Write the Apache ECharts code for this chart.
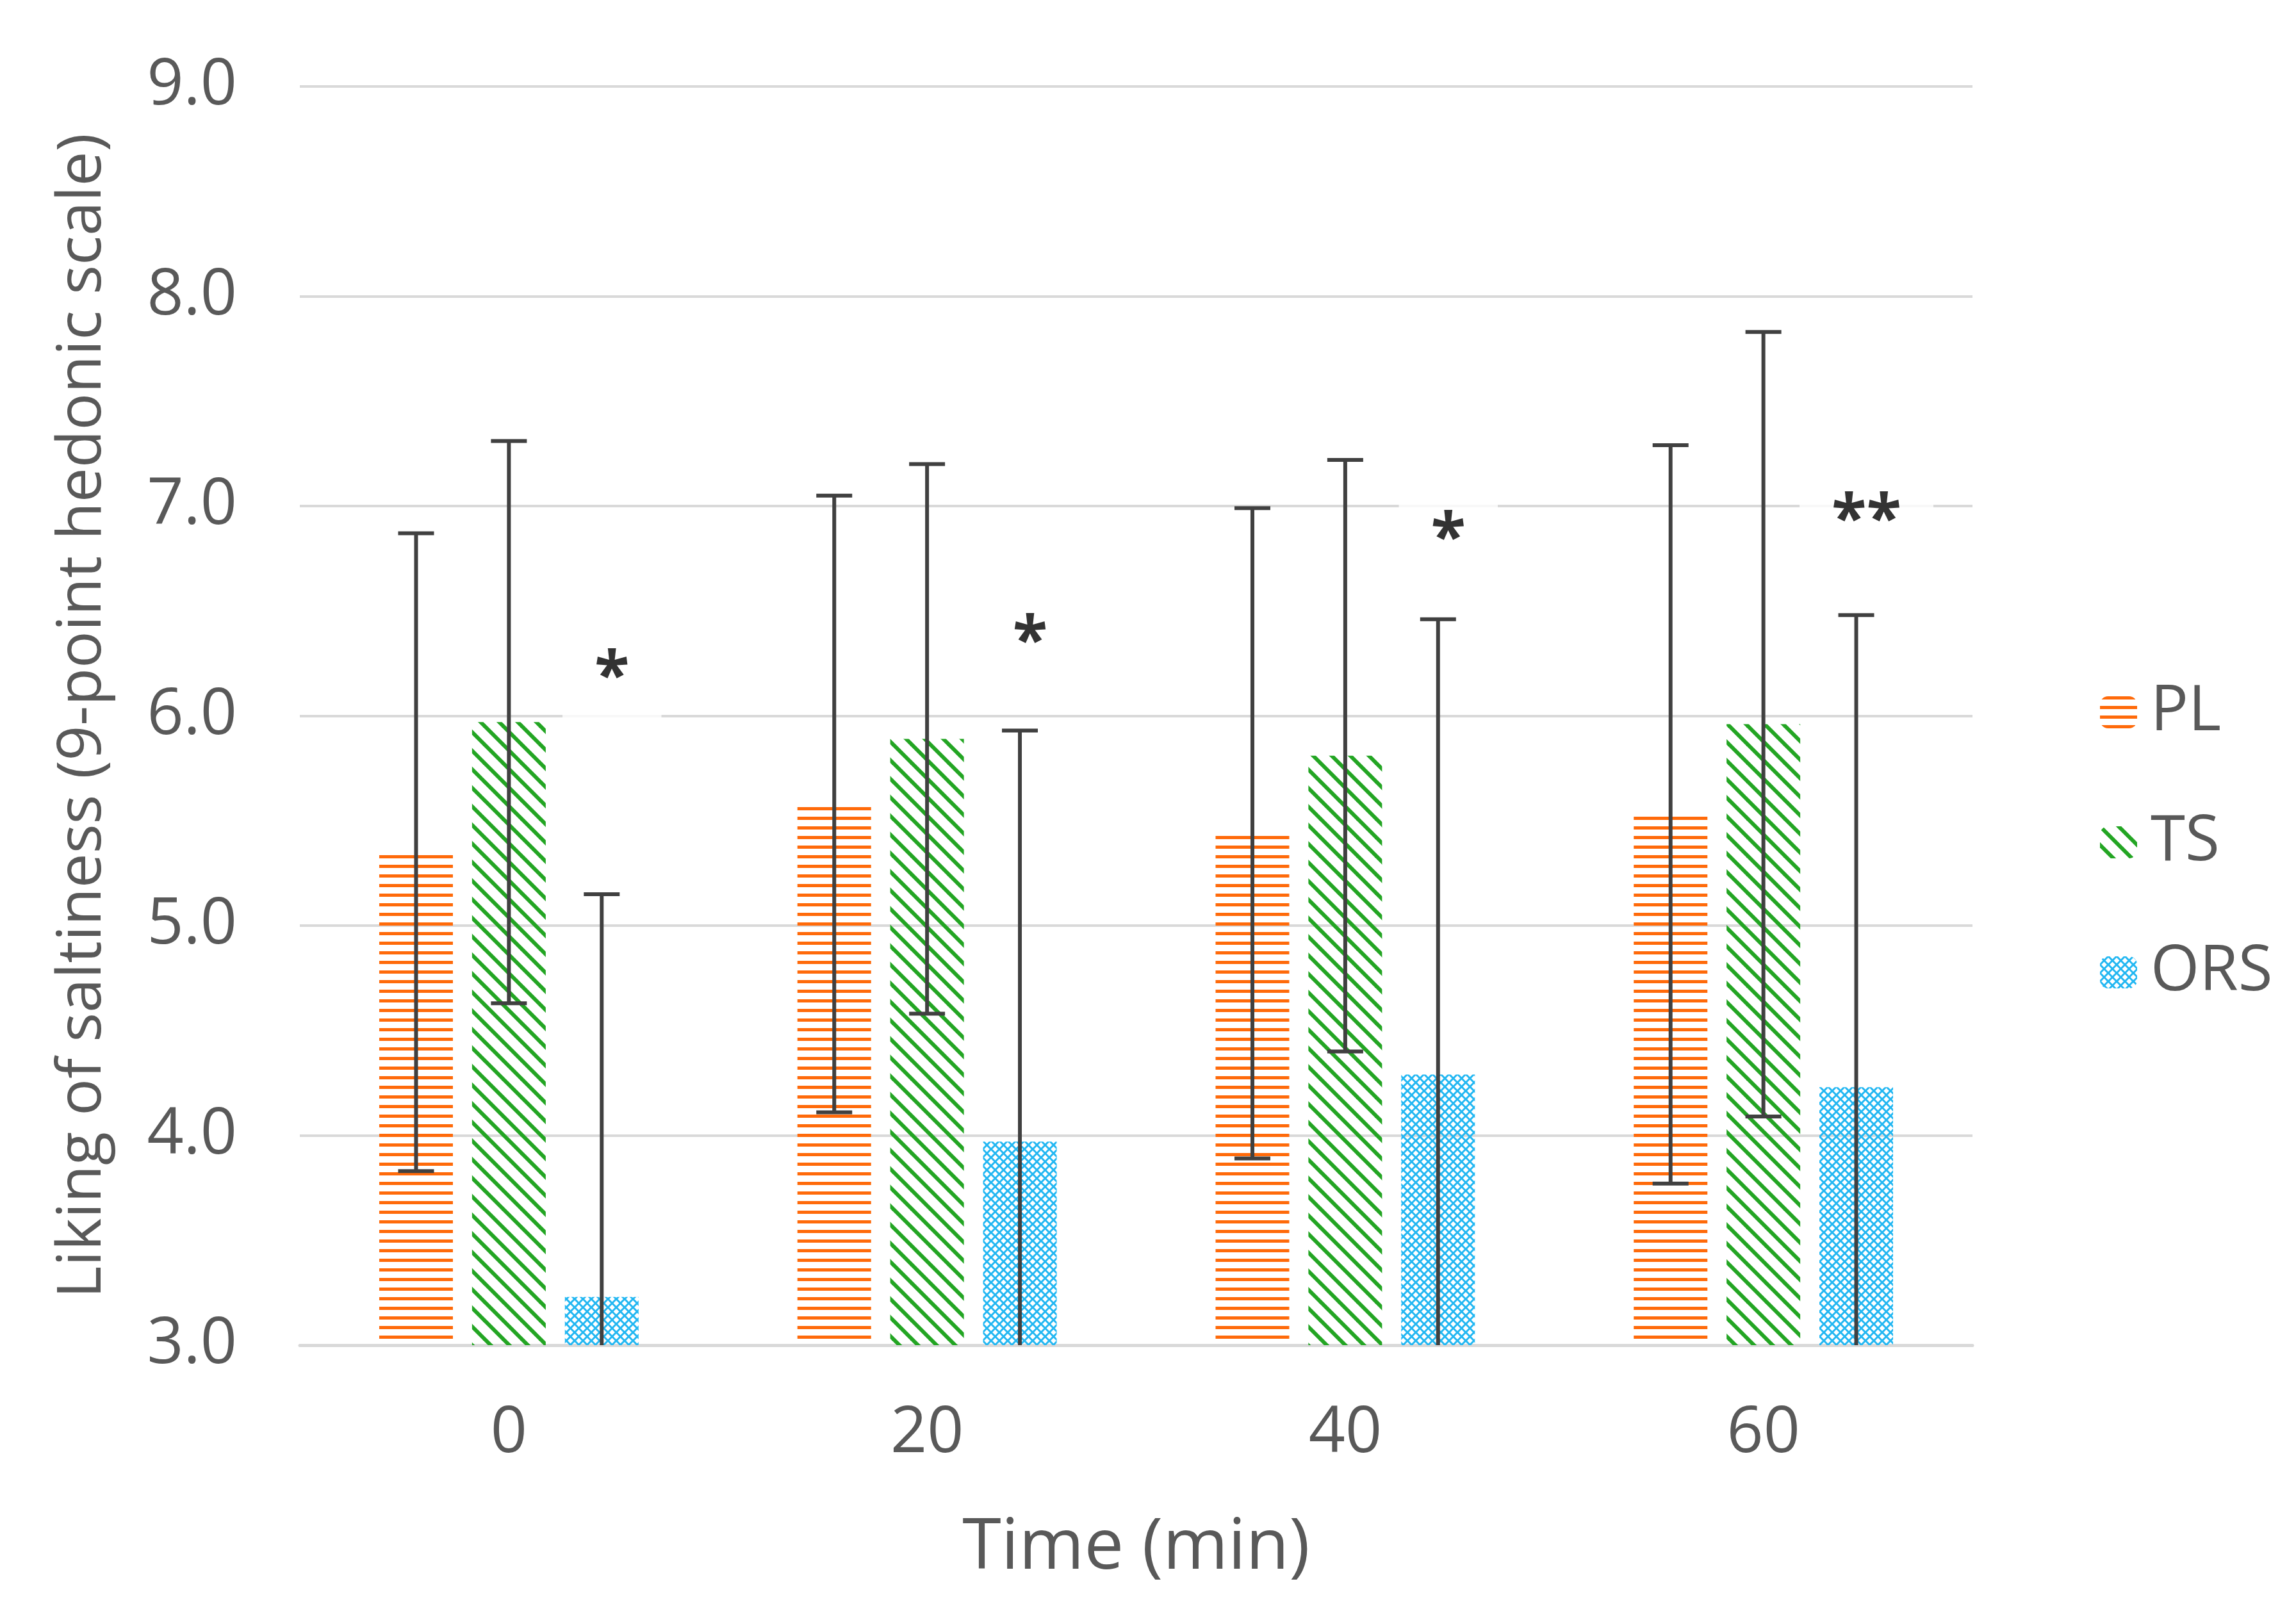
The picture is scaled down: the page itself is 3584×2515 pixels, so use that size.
<!DOCTYPE html>
<html>
<head>
<meta charset="utf-8">
<script src="https://cdn.jsdelivr.net/npm/echarts@6/dist/echarts.min.js"></script>
<style>
html,body{margin:0;padding:0;background:#ffffff;}
#chart{width:3584px;height:2515px;}
</style>
</head>
<body>
<div id="chart"></div>
<script>
// ---------- data ----------
const categories = ['0', '20', '40', '60'];
const seriesNames = ['PL', 'TS', 'ORS'];
const plMean  = [5.35, 5.58, 5.44, 5.53];
const plSD    = [1.52, 1.47, 1.55, 1.76];
const tsMean  = [5.97, 5.89, 5.81, 5.96];
const tsSD    = [1.34, 1.31, 1.41, 1.87];
const orsMean = [3.23, 3.97, 4.29, 4.23];
const orsSD   = [1.92, 1.96, 2.17, 2.25];
const sigLabels = ['*', '*', '*', '**'];
const sigY      = [6.24, 6.41, 6.90, 6.99];
const yMin = 3, yMax = 9, yStep = 1;
const xTitle = 'Time (min)';
const yTitle = 'Liking of saltiness (9-point hedonic scale)';

// ---------- style constants ----------
const FONT = "'Open Sans', 'Noto Sans', 'DejaVu Sans', sans-serif";
const TEXT_COLOR = '#595959';
const GRID_COLOR = '#D9D9D9';
const ERR_COLOR = '#404040';
const BAR_W = 115;
const BAR_GAP = 0.26;
const BAR_STEP = BAR_W * (1 + BAR_GAP);
const CAP_HALF = 28;

function makeTile(w, h, draw) {
  const c = document.createElement('canvas');
  c.width = w; c.height = h;
  const g = c.getContext('2d');
  draw(g, w, h);
  return c;
}
const plPattern = {
  image: makeTile(15, 15, (g, w, h) => {
    g.fillStyle = '#FF6A0A';
    g.fillRect(0, 0, w, 5);
  }),
  repeat: 'repeat'
};
const tsPattern = {
  image: makeTile(29, 29, (g, w, h) => {
    g.strokeStyle = '#23A523';
    g.lineWidth = 6;
    for (const dx of [-w, 0, w]) {
      g.beginPath();
      g.moveTo(dx - w, -h);
      g.lineTo(dx + 2 * w, 2 * h);
      g.stroke();
    }
  }),
  repeat: 'repeat'
};
const orsPattern = {
  image: makeTile(13, 13, (g, w, h) => {
    g.strokeStyle = '#22B7F2';
    g.lineWidth = 3;
    for (const dx of [-w, 0, w]) {
      g.beginPath();
      g.moveTo(dx - w, -h);
      g.lineTo(dx + 2 * w, 2 * h);
      g.stroke();
      g.beginPath();
      g.moveTo(dx + 2 * w, -h);
      g.lineTo(dx - w, 2 * h);
      g.stroke();
    }
  }),
  repeat: 'repeat'
};

function barSeries(name, values, pattern) {
  return {
    name: name,
    type: 'bar',
    data: values,
    barWidth: BAR_W,
    barGap: (BAR_GAP * 100) + '%',
    itemStyle: { color: pattern },
    emphasis: { disabled: true },
    z: 2
  };
}

function errSeries(means, sds, idx) {
  return {
    type: 'custom',
    name: 'err' + idx,
    silent: true,
    z: 10,
    data: means.map((m, i) => [i, m, sds[i]]),
    encode: { x: 0, y: 1 },
    renderItem: function (params, api) {
      const i = api.value(0), m = api.value(1), sd = api.value(2);
      const hi = m + sd, lo = m - sd;
      const x = api.coord([i, m])[0] + (idx - 1) * BAR_STEP;
      const yHi = api.coord([i, Math.min(hi, yMax)])[1];
      const yLo = api.coord([i, Math.max(lo, yMin)])[1];
      const st = { stroke: ERR_COLOR, lineWidth: 6 };
      const children = [
        { type: 'line', shape: { x1: x, y1: yHi, x2: x, y2: yLo }, style: st }
      ];
      if (hi <= yMax) children.push({ type: 'line', shape: { x1: x - CAP_HALF, y1: yHi, x2: x + CAP_HALF, y2: yHi }, style: st });
      if (lo >= yMin) children.push({ type: 'line', shape: { x1: x - CAP_HALF, y1: yLo, x2: x + CAP_HALF, y2: yLo }, style: st });
      return { type: 'group', children: children };
    }
  };
}

const chart = echarts.init(document.getElementById('chart'), null, { renderer: 'canvas' });
chart.setOption({
  animation: false,
  backgroundColor: '#ffffff',
  grid: { left: 468, right: 505, top: 135, bottom: 415, containLabel: false },
  legend: {
    orient: 'vertical',
    left: 3273,
    top: 1052,
    itemWidth: 58,
    itemHeight: 50,
    itemGap: 93,
    selectedMode: false,
    data: seriesNames,
    textStyle: { fontFamily: FONT, fontSize: 98, lineHeight: 110, color: TEXT_COLOR, padding: [0, 0, 0, 16] }
  },
  xAxis: {
    type: 'category',
    data: categories,
    axisTick: { show: false },
    axisLine: { show: true, lineStyle: { color: GRID_COLOR, width: 5 } },
    axisLabel: { fontFamily: FONT, fontSize: 100, lineHeight: 100, color: TEXT_COLOR, margin: 89 },
    name: xTitle,
    nameLocation: 'middle',
    nameGap: 258,
    nameTextStyle: { fontFamily: FONT, fontSize: 110, lineHeight: 120, color: TEXT_COLOR }
  },
  yAxis: {
    type: 'value',
    min: yMin,
    max: yMax,
    interval: yStep,
    axisLine: { show: false },
    axisTick: { show: false },
    splitLine: { show: true, lineStyle: { color: GRID_COLOR, width: 4 } },
    axisLabel: { fontFamily: FONT, fontSize: 100, color: TEXT_COLOR, margin: 98, formatter: v => v.toFixed(1) },
    name: yTitle,
    nameLocation: 'middle',
    nameRotate: 90,
    nameGap: 283,
    nameTextStyle: { fontFamily: FONT, fontSize: 96, lineHeight: 110, color: TEXT_COLOR }
  },
  series: [
    barSeries(seriesNames[0], plMean, plPattern),
    barSeries(seriesNames[1], tsMean, tsPattern),
    barSeries(seriesNames[2], orsMean, orsPattern),
    errSeries(plMean, plSD, 0),
    errSeries(tsMean, tsSD, 1),
    errSeries(orsMean, orsSD, 2),
    {
      type: 'scatter',
      name: 'sig',
      silent: true,
      z: 5,
      symbolSize: 1,
      itemStyle: { color: 'rgba(0,0,0,0)' },
      data: sigY.map((y, i) => [i, y]),
      label: {
        show: true,
        position: 'inside',
        offset: [BAR_STEP + 16, 22],
        formatter: p => sigLabels[p.dataIndex],
        fontFamily: FONT,
        fontWeight: 'bold',
        fontSize: 100,
        lineHeight: 110,
        color: '#000000',
        backgroundColor: '#ffffff',
        padding: [15, 50, 10, 50]
      }
    }
  ]
});
</script>
</body>
</html>
